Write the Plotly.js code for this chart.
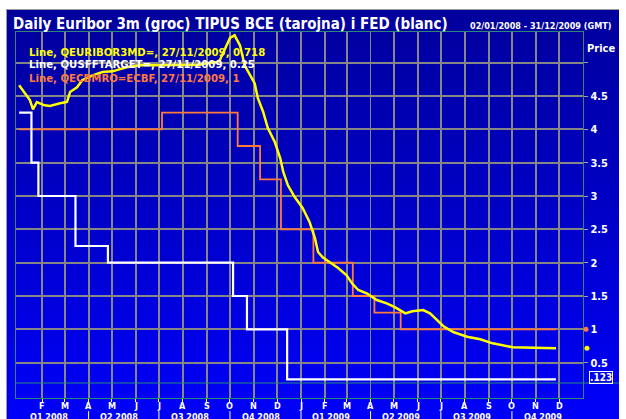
<!DOCTYPE html>
<html>
<head>
<meta charset="utf-8">
<script src="https://cdn.plot.ly/plotly-3.0.1.min.js"></script>
<style>
  html, body { margin: 0; padding: 0; background: #ffffff; }
  #bg { position: absolute; left: 6px; top: 9px; width: 613px; height: 410px;
        border-left: 1px solid #9a9a9a; border-top: 1px solid #9a9a9a; box-sizing: border-box;
        background: linear-gradient(to bottom, #00009c 0%, #0000c8 50%, #0000fa 100%); }
  #chart { position: absolute; left: 0; top: 0; width: 626px; height: 419px; }
</style>
</head>
<body>
<div id="bg"></div>
<div id="chart"></div>
<script>
// ---- Data ----
const euriborDates = ['2008-01-02','2008-01-10','2008-01-16','2008-01-20','2008-01-25','2008-02-04','2008-02-11','2008-02-24','2008-03-04','2008-03-08','2008-03-17','2008-03-24','2008-04-06','2008-04-19','2008-05-02','2008-05-20','2008-06-06','2008-07-02','2008-07-28','2008-08-23','2008-09-01','2008-09-14','2008-09-18','2008-09-24','2008-10-01','2008-10-07','2008-10-14','2008-10-20','2008-10-27','2008-11-02','2008-11-06','2008-11-13','2008-11-19','2008-11-28','2008-12-05','2008-12-09','2008-12-15','2008-12-24','2009-01-03','2009-01-12','2009-01-19','2009-01-23','2009-01-29','2009-02-07','2009-02-18','2009-03-01','2009-03-08','2009-03-16','2009-03-27','2009-04-09','2009-04-22','2009-05-03','2009-05-16','2009-05-25','2009-06-08','2009-06-17','2009-06-26','2009-07-04','2009-07-17','2009-08-04','2009-08-21','2009-09-06','2009-10-02','2009-10-28','2009-11-27'];
const euriborValues = [4.66,4.54,4.44,4.30,4.41,4.36,4.35,4.39,4.41,4.56,4.63,4.74,4.81,4.86,4.87,4.93,4.96,4.96,4.96,4.97,4.99,5.01,5.04,5.19,5.37,5.41,5.26,4.96,4.81,4.69,4.47,4.26,4.02,3.81,3.57,3.36,3.16,2.98,2.82,2.61,2.37,2.16,2.08,2.01,1.92,1.81,1.69,1.59,1.54,1.44,1.39,1.33,1.24,1.27,1.29,1.24,1.14,1.05,0.96,0.89,0.85,0.79,0.73,0.72,0.718];

const fedDates = ['2008-01-02','2008-01-18','2008-01-27','2008-03-15','2008-04-26','2008-10-05','2008-10-23','2008-12-14','2009-11-27'];
const fedValues = [4.25,3.5,3.0,2.25,2.0,1.5,1.0,0.25,0.25];

const ecbDates = ['2008-01-02','2008-07-05','2008-10-11','2008-11-09','2008-12-06','2009-01-17','2009-03-09','2009-04-06','2009-05-10','2009-11-27'];
const ecbValues = [4.0,4.25,3.75,3.25,2.5,2.0,1.5,1.25,1.0,1.0];

const seriesNames = ['QEURIBOR3MD=','QUSFFTARGET=','QECBMRO=ECBF'];
const lastValueLabels = ['0.718','0.25','1'];
const lastDateLabel = '27/11/2009';

const monthTickDates = ['2008-02-01','2008-03-01','2008-04-01','2008-05-01','2008-06-01','2008-07-01','2008-08-01','2008-09-01','2008-10-01','2008-11-01','2008-12-01','2009-01-01','2009-02-01','2009-03-01','2009-04-01','2009-05-01','2009-06-01','2009-07-01','2009-08-01','2009-09-01','2009-10-01','2009-11-01','2009-12-01'];
const monthTickText = ['F','M','A','M','J','J','A','S','O','N','D','J','F','M','A','M','J','J','A','S','O','N','D'];

const quarterLabels = ['Q1 2008','Q2 2008','Q3 2008','Q4 2008','Q1 2009','Q2 2009','Q3 2009','Q4 2009'];
const quarterMidDates = ['2008-02-15','2008-05-16','2008-08-15','2008-11-15','2009-02-14','2009-05-16','2009-08-15','2009-11-15'];
const quarterStartDates = ['2008-04-01','2008-07-01','2008-10-01','2009-01-01','2009-04-01','2009-07-01','2009-10-01'];

const yTickVals = [0.5,1,1.5,2,2.5,3,3.5,4,4.5,5];
const yTickText = ['0.5','1','1.5','2','2.5','3','3.5','4','4.5',''];

const titleText = 'Daily Euribor 3m (groc) TIPUS BCE (tarojna) i FED (blanc)';
const rangeText = '02/01/2008 - 31/12/2009 (GMT)';

// ---- Styles ----
const FONT = '"DejaVu Sans Condensed", "DejaVu Sans", sans-serif';
const YELLOW = '#ffff00', WHITE = '#ffffff', ORANGE = '#ff7a3c';
const FRAME = '#2a8a78', GRID = '#868686';

const traces = [
  { x: ecbDates, y: ecbValues, type: 'scatter', mode: 'lines', line: { color: ORANGE, width: 1.8, shape: 'hv' }, hoverinfo: 'skip' },
  { x: fedDates, y: fedValues, type: 'scatter', mode: 'lines', line: { color: WHITE, width: 2.2, shape: 'hv' }, hoverinfo: 'skip' },
  { x: euriborDates, y: euriborValues, type: 'scatter', mode: 'lines', line: { color: YELLOW, width: 2.5 }, hoverinfo: 'skip' }
];

const annotations = [
  { text: titleText, xref: 'paper', yref: 'paper', x: -0.009, y: 1.022, xanchor: 'left', yanchor: 'middle', showarrow: false,
    font: { family: FONT, size: 15, color: WHITE, weight: 'bold' } },
  { text: rangeText, xref: 'paper', yref: 'paper', x: 1.053, y: 1.017, xanchor: 'right', yanchor: 'middle', showarrow: false,
    font: { family: FONT, size: 9, color: WHITE, weight: 'bold' } },
  { text: 'Price', xref: 'paper', yref: 'paper', x: 1.032, y: 0.955, xanchor: 'center', yanchor: 'middle', showarrow: false,
    font: { family: FONT, size: 11, color: WHITE, weight: 'bold' } },
  { text: '.123', xref: 'paper', yref: 'paper', x: 1.031, y: 0.057, xanchor: 'center', yanchor: 'middle', showarrow: false,
    bordercolor: WHITE, borderwidth: 1, borderpad: 0,
    font: { family: FONT, size: 10, color: WHITE, weight: 'bold' } }
];
const legendColors = [YELLOW, WHITE, ORANGE];
const legendY = [0.945, 0.910, 0.874];
seriesNames.forEach((n, i) => {
  annotations.push({ text: 'Line, ' + n + ', ' + lastDateLabel + ', ' + lastValueLabels[i], xref: 'paper', yref: 'paper',
    x: 0.02, y: legendY[i], xanchor: 'left', yanchor: 'middle', showarrow: false,
    font: { family: FONT, size: 11.3, color: legendColors[i], weight: 'bold' } });
});
monthTickDates.forEach((d, i) => {
  annotations.push({ text: monthTickText[i], xref: 'x', yref: 'paper', x: d, y: -0.022,
    xanchor: 'center', yanchor: 'middle', showarrow: false,
    font: { family: FONT, size: 9, color: WHITE, weight: 'bold' } });
});
quarterLabels.forEach((q, i) => {
  annotations.push({ text: q, xref: 'x', yref: 'paper', x: quarterMidDates[i], y: -0.052, xshift: -4,
    xanchor: 'center', yanchor: 'middle', showarrow: false,
    font: { family: FONT, size: 9, color: WHITE, weight: 'bold' } });
});

const shapes = [
  { type: 'line', xref: 'paper', yref: 'paper', x0: 0, x1: 1.063, y0: 0.041, y1: 0.041, line: { color: FRAME, width: 1.2 } }
];
quarterStartDates.forEach(d => {
  shapes.push({ type: 'line', xref: 'x', yref: 'paper', x0: d, x1: d, y0: -0.036, y1: -0.06, line: { color: WHITE, width: 1 } });
});
// last-value dots at the right edge
[[euriborValues, YELLOW], [ecbValues, ORANGE]].forEach(([vals, c], i) => {
  shapes.push({ type: 'circle', xref: 'paper', yref: 'y', xsizemode: 'pixel', ysizemode: 'pixel',
    xanchor: i === 0 ? 1.0070 : 1.0053, yanchor: vals[vals.length - 1], x0: -2.5, x1: 2.5, y0: -2.5, y1: 2.5,
    fillcolor: c, line: { width: 0 } });
});

const layout = {
  width: 626, height: 419,
  margin: { l: 16, r: 43, t: 32, b: 21 },
  paper_bgcolor: 'rgba(0,0,0,0)', plot_bgcolor: 'rgba(0,0,0,0)',
  showlegend: false,
  font: { family: FONT, color: WHITE },
  xaxis: {
    type: 'date', range: ['2007-12-29', '2010-01-01'],
    tickvals: monthTickDates, ticktext: monthTickText, showticklabels: false,
    showgrid: true, gridcolor: GRID, gridwidth: 1.8,
    showline: true, linecolor: FRAME, linewidth: 1.2, mirror: true,
    ticks: 'outside', ticklen: 3, tickcolor: WHITE, tickwidth: 1,
    zeroline: false, fixedrange: true
  },
  yaxis: {
    side: 'right', range: [-0.03, 5.46],
    tickvals: yTickVals, ticktext: yTickText,
    showgrid: true, gridcolor: GRID, gridwidth: 1.8,
    showline: true, linecolor: FRAME, linewidth: 1.2, mirror: true,
    ticks: 'outside', ticklen: 4, tickcolor: '#a0a0a0',
    tickfont: { family: FONT, size: 11, color: WHITE, weight: 'bold' },
    zeroline: false, fixedrange: true
  },
  annotations: annotations,
  shapes: shapes
};

Plotly.newPlot('chart', traces, layout, { displayModeBar: false, staticPlot: true });
</script>
</body>
</html>
